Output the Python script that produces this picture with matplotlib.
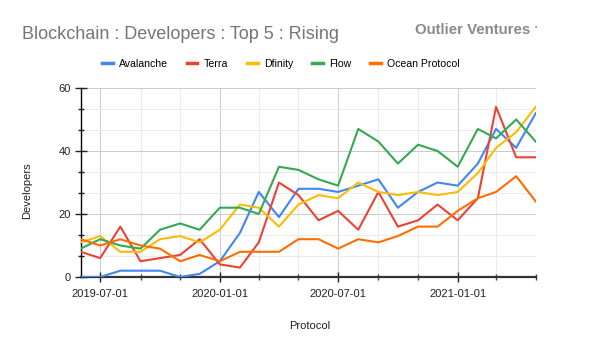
import numpy as np
import pandas as pd
import matplotlib
matplotlib.use('Agg')
import matplotlib.pyplot as plt
import matplotlib.dates as mdates
from matplotlib.ticker import MultipleLocator

# Monthly developer counts, 2019-06 .. 2021-05
months = ['2019-06-01', '2019-07-01', '2019-08-01', '2019-09-01', '2019-10-01', '2019-11-01',
          '2019-12-01', '2020-01-01', '2020-02-01', '2020-03-01', '2020-04-01', '2020-05-01',
          '2020-06-01', '2020-07-01', '2020-08-01', '2020-09-01', '2020-10-01', '2020-11-01',
          '2020-12-01', '2021-01-01', '2021-02-01', '2021-03-01', '2021-04-01', '2021-05-01']
avalanche = [0, 0, 2, 2, 2, 0, 1, 5, 14, 27, 19, 28, 28, 27, 29, 31, 22, 27, 30, 29, 36, 47, 41, 52]
terra = [8, 6, 16, 5, 6, 7, 12, 4, 3, 11, 30, 26, 18, 21, 15, 27, 16, 18, 23, 18, 25, 54, 38, 38]
dfinity = [11, 13, 8, 8, 12, 13, 11, 15, 23, 22, 16, 23, 26, 25, 30, 27, 26, 27, 26, 27, 33, 41, 46, 54]
flow = [9, 12, 10, 9, 15, 17, 15, 22, 22, 20, 35, 34, 31, 29, 47, 43, 36, 42, 40, 35, 47, 44, 50, 43]
ocean = [12, 10, 12, 10, 9, 5, 7, 5, 8, 8, 8, 12, 12, 9, 12, 11, 13, 16, 16, 21, 25, 27, 32, 24]

series = ['Avalanche', 'Terra', 'Dfinity', 'Flow', 'Ocean Protocol']
colors = ['#4285f4', '#ea4335', '#fbbc04', '#34a853', '#ff6d01']

plt.rcParams['font.family'] = ['Liberation Sans', 'DejaVu Sans']

dates = pd.to_datetime(months)
fig = plt.figure(figsize=(5.97, 3.5), dpi=100)
ax = fig.add_axes([80.7 / 597, 1 - 277 / 350, 455 / 597, 189 / 350])

for name, vals, c in zip(series, [avalanche, terra, dfinity, flow, ocean], colors):
    ax.plot(dates, vals, color=c, lw=1.5, label=name, zorder=3)

ax.set_xlim(dates[0], dates[-1])
ax.set_ylim(0, 60)

# axes / ticks
ax.xaxis.set_major_locator(mdates.MonthLocator(bymonth=[1, 7]))
ax.xaxis.set_minor_locator(mdates.MonthLocator(bymonth=[3, 5, 9, 11]))
ax.xaxis.set_major_formatter(mdates.DateFormatter('%Y-%m-%d'))
ax.yaxis.set_major_locator(MultipleLocator(20))
ax.yaxis.set_minor_locator(MultipleLocator(20 / 3))

ax.tick_params(axis='x', which='major', direction='inout', length=7, width=1, pad=5,
               labelsize=8, colors='#222222')
ax.tick_params(axis='x', which='minor', direction='inout', length=4, width=1, color='#444444')
ax.tick_params(axis='y', which='major', direction='inout', length=8, width=1, pad=3,
               labelsize=8, colors='#222222')
ax.tick_params(axis='y', which='minor', direction='inout', length=4, width=1, color='#222222')

ax.grid(which='major', color='#cccccc', lw=0.75, zorder=0)
ax.grid(which='minor', color='#ebebeb', lw=0.75, zorder=0)
ax.set_axisbelow(True)

for s in ['top', 'right']:
    ax.spines[s].set_visible(False)
ax.spines['left'].set_color('#000000')
ax.spines['left'].set_linewidth(1)
ax.spines['bottom'].set_color('#333333')
ax.spines['bottom'].set_linewidth(1.6)

# texts
fig.text(22 / 597, 1 - 34.5 / 350, 'Blockchain : Developers : Top 5 : Rising',
         fontsize=13, color='#757575', va='center', ha='left')
fig.text(415 / 597, 1 - 30 / 350, 'Outlier Ventures', fontsize=10.8, fontweight='bold',
         color='#8a8a8a', va='center', ha='left')
fig.text(535 / 597, 1 - 27 / 350, '•', fontsize=5, color='#8a8a8a', va='center', ha='left')
fig.text(310 / 597, 1 - 326 / 350, 'Protocol', fontsize=8, color='#222222',
         ha='center', va='center')
fig.text(27 / 597, 1 - 191 / 350, 'Developers', fontsize=8, color='#222222',
         rotation=90, ha='center', va='center')

leg = fig.legend(loc='center', bbox_to_anchor=(281 / 597, 1 - 64 / 350), ncol=5,
                 frameon=False, fontsize=7.6, handlelength=1.0, handletextpad=0.6,
                 columnspacing=1.8, borderaxespad=0)
for h in leg.get_lines():
    h.set_linewidth(2.5)

fig.savefig('out.png', dpi=100)
